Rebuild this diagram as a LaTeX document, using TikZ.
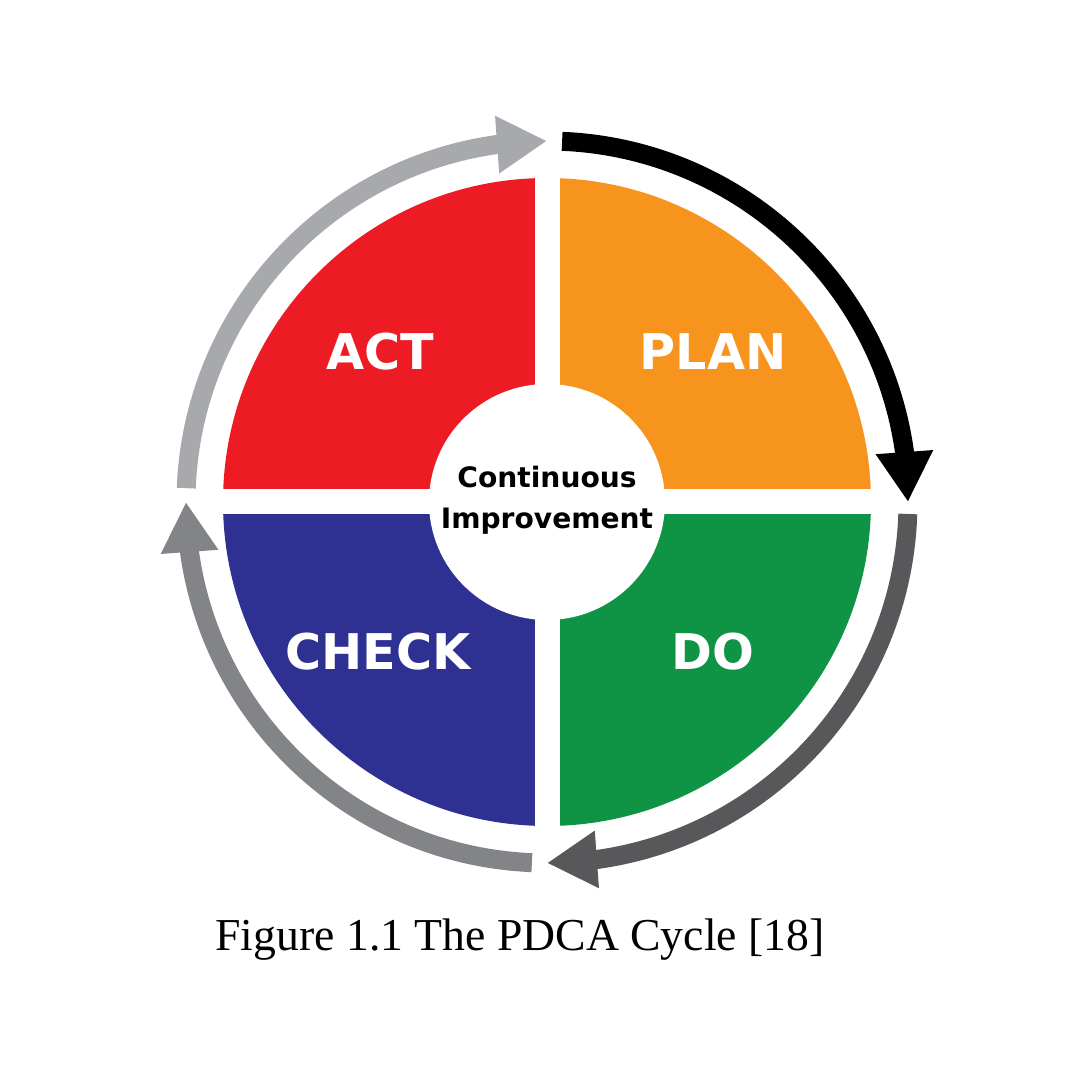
\documentclass[tikz,border=0pt]{standalone}
\usepackage{fontspec}
\setmainfont{Liberation Serif}
\setsansfont{DejaVu Sans}
\usepackage{tikz}
\usetikzlibrary{arrows.meta,positioning}

\definecolor{actred}{HTML}{ED1C24}
\definecolor{planorange}{HTML}{F7941D}
\definecolor{checkblue}{HTML}{2E3192}
\definecolor{dogreen}{HTML}{0F9345}
\definecolor{gdark}{HTML}{58585A}
\definecolor{gmid}{HTML}{838487}
\definecolor{glight}{HTML}{A7A9AC}

\begin{document}
\begin{tikzpicture}[
  phase/.style={text=white, font=\sffamily\bfseries\fontsize{14}{16}\selectfont},
  cyc/.style={line width=0.19cm, -{Triangle[width=0.54cm,length=0.5cm]}}]
  \useasboundingbox (-5.47,-5.78) rectangle (5.33,5.02);
  % quadrants
  \fill[actred] (0,0) -- (180:3.24) arc (180:90:3.24) -- cycle;
  \fill[planorange] (0,0) -- (90:3.24) arc (90:0:3.24) -- cycle;
  \fill[dogreen] (0,0) -- (0:3.24) arc (0:-90:3.24) -- cycle;
  \fill[checkblue] (0,0) -- (-90:3.24) arc (-90:-180:3.24) -- cycle;
  \draw[white, line width=0.25cm] (-3.4,0) -- (3.4,0);
  \draw[white, line width=0.25cm] (0,-3.4) -- (0,3.4);
  \fill[white] (0,0) circle (1.18);
  % labels
  \node[phase] (act) at (-1.67,1.50) {ACT};
  \node[phase] (plan) at (1.66,1.50) {PLAN};
  \node[phase] (check) at (-1.69,-1.50) {CHECK};
  \node[phase] (do) at (1.66,-1.50) {DO};
  \node[align=center, font=\sffamily\bfseries\fontsize{8}{11.7}\selectfont] (ci) at (0,0.02) {Continuous\\Improvement};
  % cycle arrows (the tip sits on a short chord so the arc keeps its shape)
  \draw[cyc, draw=black] (87.6:3.61) arc (87.6:8.2:3.61) -- (0:3.61);
  \draw[cyc, draw=gdark] (-1.9:3.61) arc (-1.9:-81.8:3.61) -- (-90:3.61);
  \draw[cyc, draw=gmid] (-92.4:3.61) arc (-92.4:-171.8:3.61) -- (-180:3.61);
  \draw[cyc, draw=glight] (177.8:3.61) arc (177.8:98.2:3.61) -- (90:3.61);
  % caption
  \node[font=\fontsize{13}{15}\selectfont] (cap) at (-0.27,-4.38) {Figure 1.1 The PDCA Cycle [18]};
\end{tikzpicture}
\end{document}
